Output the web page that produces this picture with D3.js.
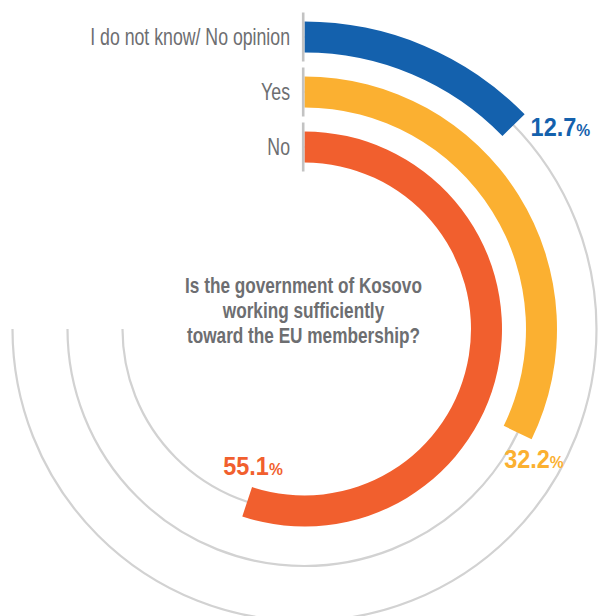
<!DOCTYPE html>
<html>
<head>
<meta charset="utf-8">
<script src="https://cdn.jsdelivr.net/npm/d3@7"></script>
<style>
  html, body { margin: 0; padding: 0; background: #fff; }
  svg { display: block; font-family: "Liberation Sans", Arial, Helvetica, sans-serif; }
</style>
</head>
<body>
<svg id="chart" width="611" height="616"></svg>
<script>
// Survey answers, outermost ring first
const categories = ["I do not know/ No opinion", "Yes", "No"];
const values = [12.7, 32.2, 55.1];
const palette = ["#1461ad", "#fbb031", "#f15f2e"];
const questionLines = ["Is the government of Kosovo", "working sufficiently", "toward the EU membership?"];

const svg = d3.select("#chart");
const cx = 304.5, cy = 329;
const barWidth = 31;
const textGray = "#6d6e71";

// radius of each ring's centre line, angle for the share (100% = full turn)
const radius = d3.scalePoint().domain(categories).range([292, 182]);
const angle = d3.scaleLinear().domain([0, 100]).range([0, 2 * Math.PI]);
const color = d3.scaleOrdinal().domain(categories).range(palette);

const g = svg.append("g").attr("transform", `translate(${cx},${cy})`);

const rows = categories.map((c, i) => ({ cat: c, value: values[i] }));

// thin grey guide rings: three quarters of a turn, from 12 o'clock round to 9 o'clock
g.selectAll("path.track")
  .data(rows)
  .join("path")
  .attr("class", "track")
  .attr("d", d => {
    const p = d3.path();
    const r = radius(d.cat);
    p.moveTo(0, -r);
    p.arc(0, 0, r, -Math.PI / 2, Math.PI, false);
    return p.toString();
  })
  .attr("fill", "none")
  .attr("stroke", "#d2d2d2")
  .attr("stroke-width", 2.2);

// value bars
const arc = d3.arc()
  .innerRadius(d => radius(d.cat) - barWidth / 2)
  .outerRadius(d => radius(d.cat) + barWidth / 2)
  .startAngle(0)
  .endAngle(d => angle(d.value));

g.selectAll("path.bar")
  .data(rows)
  .join("path")
  .attr("class", "bar")
  .attr("d", arc)
  .attr("fill", d => color(d.cat));

// small vertical start marks
g.selectAll("line.tick")
  .data(rows)
  .join("line")
  .attr("class", "tick")
  .attr("x1", -1.3).attr("x2", -1.3)
  .attr("y1", d => -radius(d.cat) - 24.5)
  .attr("y2", d => -radius(d.cat) + 24.5)
  .attr("stroke", "#c3c3c3")
  .attr("stroke-width", 2.6);

// category names, right-aligned before the start marks
g.selectAll("text.cat")
  .data(rows)
  .join("text")
  .attr("class", "cat")
  .attr("transform", d => `translate(${-14.5},${-radius(d.cat) + 7.5}) scale(0.77,1)`)
  .attr("text-anchor", "end")
  .attr("font-size", 23)
  .attr("fill", textGray)
  .text(d => d.cat);

// percentage labels placed just past the end of each bar
const labelPlace = [
  { da: 6, dr: 34 },
  { da: 3.7, dr: 27 },
  { da: 2.2, dr: -35.5 }
];
const valLabels = g.selectAll("text.val")
  .data(rows)
  .join("text")
  .attr("class", "val")
  .attr("transform", (d, i) => {
    const a = angle(d.value) + labelPlace[i].da * Math.PI / 180;
    const r = radius(d.cat) + labelPlace[i].dr;
    const x = r * Math.sin(a), y = -r * Math.cos(a);
    return `translate(${x},${y + 9}) scale(0.92,1)`;
  })
  .attr("text-anchor", "middle")
  .attr("font-weight", "bold")
  .attr("fill", d => color(d.cat));
valLabels.append("tspan").attr("font-size", 25.5).text(d => d3.format(".1f")(d.value));
valLabels.append("tspan").attr("font-size", 17).text("%");

// question in the middle
g.selectAll("text.q")
  .data(questionLines)
  .join("text")
  .attr("class", "q")
  .attr("transform", (d, i) => `translate(-1,${-36 + i * 25}) scale(0.8,1)`)
  .attr("text-anchor", "middle")
  .attr("font-size", 21.5)
  .attr("font-weight", "bold")
  .attr("fill", textGray)
  .text(d => d);
</script>
</body>
</html>
